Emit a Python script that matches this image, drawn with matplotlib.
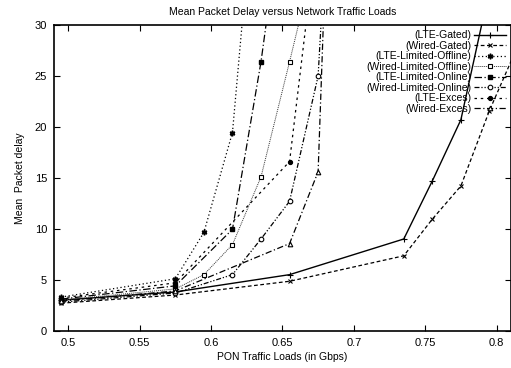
import matplotlib
matplotlib.use('Agg')
import matplotlib.pyplot as plt

plt.rcParams['font.family'] = ['Liberation Sans', 'DejaVu Sans']

# PON traffic load (Gbps) and mean packet delay per scheme
lteGatedX      = [0.495, 0.575, 0.655, 0.735, 0.755, 0.775, 0.795]
lteGatedY      = [3.0, 3.8, 5.5, 9.0, 14.7, 20.7, 33.5]
wiredGatedX    = [0.495, 0.575, 0.655, 0.735, 0.755, 0.775, 0.795, 0.815]
wiredGatedY    = [2.7, 3.5, 4.85, 7.35, 10.95, 14.2, 21.6, 28.0]
lteLimOffX     = [0.495, 0.575, 0.595, 0.615, 0.635]
lteLimOffY     = [3.3, 5.1, 9.65, 19.45, 51.0]
wiredLimOffX   = [0.495, 0.575, 0.595, 0.615, 0.635, 0.655, 0.675]
wiredLimOffY   = [3.0, 4.1, 5.5, 8.45, 15.1, 26.4, 38.0]
lteLimOnX      = [0.495, 0.575, 0.615, 0.635, 0.655]
lteLimOnY      = [3.1, 4.4, 9.95, 26.4, 47.0]
wiredLimOnX    = [0.495, 0.575, 0.615, 0.635, 0.655, 0.675, 0.695]
wiredLimOnY    = [2.8, 3.7, 5.5, 9.0, 12.7, 25.0, 75.0]
lteExcesX      = [0.495, 0.575, 0.655, 0.675]
lteExcesY      = [3.2, 4.7, 16.6, 40.0]
wiredExcesX    = [0.495, 0.575, 0.655, 0.675, 0.695]
wiredExcesY    = [2.9, 3.9, 8.55, 15.6, 95.0]

labels = ['(LTE-Gated)', '(Wired-Gated)', '(LTE-Limited-Offline)', '(Wired-Limited-Offline)',
          '(LTE-Limited-Online)', '(Wired-Limited-Online)', '(LTE-Exces)', '(Wired-Exces)']

fig = plt.figure(figsize=(5.11, 3.68), dpi=100)
ax = fig.add_axes([0.1057, 0.1014, 0.894, 0.8306])

ms = 3.3
ax.plot(lteGatedX, lteGatedY, color='black', lw=1, ls='-', marker='+', ms=ms + 1.5, mew=0.8, label=labels[0])
ax.plot(wiredGatedX, wiredGatedY, color='black', lw=0.9, ls=(0, (3, 2)), marker='x', ms=ms, mew=0.8, label=labels[1])
ax.plot(lteLimOffX, lteLimOffY, color='black', lw=0.9, ls=(0, (1, 2)), marker=(6, 2, 0), ms=ms + 0.7, mew=1.1, label=labels[2])
ax.plot(wiredLimOffX, wiredLimOffY, color='#333333', lw=0.7, ls=(0, (1, 1)), marker='s', ms=ms, mfc='white', mec='black', mew=0.8, label=labels[3])
ax.plot(lteLimOnX, lteLimOnY, color='black', lw=0.9, ls=(0, (6, 2, 1, 2)), marker='s', ms=ms + 0.3, label=labels[4])
ax.plot(wiredLimOnX, wiredLimOnY, color='black', lw=0.9, ls=(0, (4, 1.5, 1, 1.5, 1, 1.5)), marker='o', ms=ms, mfc='white', mew=0.8, label=labels[5])
ax.plot(lteExcesX, lteExcesY, color='black', lw=0.9, ls=(0, (2, 3)), marker='o', ms=ms - 0.5, label=labels[6])
ax.plot(wiredExcesX, wiredExcesY, color='black', lw=0.9, ls=(0, (5, 2, 1, 2)), marker='^', ms=ms, mfc='white', mew=0.8, label=labels[7])

ax.set_xlim(0.49, 0.81)
ax.set_ylim(0, 30)
ax.set_xticks([0.5, 0.55, 0.6, 0.65, 0.7, 0.75, 0.8])
ax.set_xticklabels(['0.5', '0.55', '0.6', '0.65', '0.7', '0.75', '0.8'])
ax.set_yticks([0, 5, 10, 15, 20, 25, 30])
ax.tick_params(direction='in', top=True, right=True, length=4, labelsize=8, pad=5)
for s in ax.spines.values():
    s.set_linewidth(1.2)

ax.set_title('Mean Packet Delay versus Network Traffic Loads', fontsize=7.5, pad=7)
ax.set_xlabel('PON Traffic Loads (in Gbps)', fontsize=7.5, labelpad=3)
ax.set_ylabel('Mean  Packet delay', fontsize=7.5, labelpad=7)

leg = ax.legend(loc='upper right', frameon=False, fontsize=7.5, markerfirst=False,
                handlelength=3.0, handletextpad=0.3, labelspacing=0.05,
                borderaxespad=0.3, borderpad=0.2)
for t in leg.get_texts():
    t.set_ha('right')
leg._legend_box.align = 'right'

fig.savefig('out.png', dpi=100)
